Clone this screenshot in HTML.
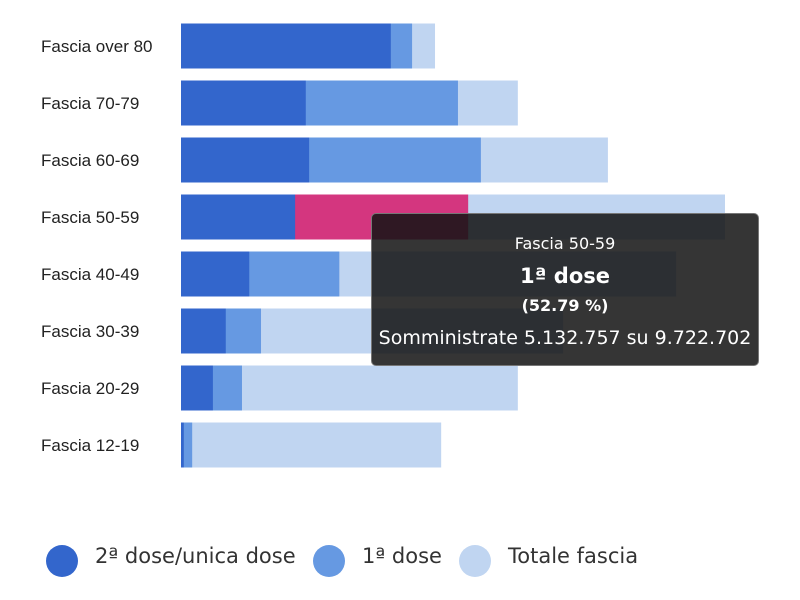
<!DOCTYPE html>
<html><head><meta charset="utf-8"><style>
body{margin:0;width:800px;height:600px;background:#fff;font-family:"Liberation Sans",sans-serif;overflow:hidden;position:relative}
#tip{position:absolute;left:371px;top:213px;width:388px;height:153px;box-sizing:border-box;background:rgba(20,20,20,0.86);border:1px solid #777;border-radius:5px;color:#fff;text-align:center;font-family:"DejaVu Sans","Liberation Sans",sans-serif}
.leg{position:absolute;top:544px;font-size:21px;color:#333;font-family:"DejaVu Sans","Liberation Sans",sans-serif}
.dot{position:absolute;top:545px;width:32px;height:32px;border-radius:50%}
</style></head><body>
<svg id="chart" width="800" height="600" style="position:absolute;left:0;top:0"></svg>
<div id="tip">
<div style="position:absolute;top:20px;width:100%;font-size:16px">Fascia 50-59</div>
<div style="position:absolute;top:50px;width:100%;font-size:21px;font-weight:bold">1ª dose</div>
<div style="position:absolute;top:82px;width:100%;font-size:16px;font-weight:bold">(52.79 %)</div>
<div style="position:absolute;top:113px;width:100%;font-size:19px">Somministrate 5.132.757 su 9.722.702</div>
</div>
<div class="dot" style="left:46px;background:#3366cc"></div>
<div class="leg" style="left:95px">2ª dose/unica dose</div>
<div class="dot" style="left:313px;background:#6699e2"></div>
<div class="leg" style="left:362px">1ª dose</div>
<div class="dot" style="left:459px;background:#c0d5f1"></div>
<div class="leg" style="left:508px">Totale fascia</div>
<script>
const categories=["Fascia over 80","Fascia 70-79","Fascia 60-69","Fascia 50-59","Fascia 40-49","Fascia 30-39","Fascia 20-29","Fascia 12-19"];
const dose2=[3.75,2.23,2.29,2.04,1.22,0.80,0.57,0.05];
const dose1=[4.13,4.95,5.36,5.132757,2.83,1.43,1.09,0.20];
const totals=[4.54,6.02,7.63,9.722702,8.85,6.83,6.02,4.65];
const highlight={series:"dose1",index:3};
const svg=document.getElementById('chart');
const NS="http://www.w3.org/2000/svg";
const x0=181,pxPer=544/9.722702;
const xs=v=>v*pxPer;
const yc=i=>46+i*57;
function rect(x,y,w,h,f,name){const r=document.createElementNS(NS,'rect');r.setAttribute('x',x);r.setAttribute('y',y);r.setAttribute('width',w);r.setAttribute('height',h);r.setAttribute('fill',f);


svg.appendChild(r);}
categories.forEach((c,i)=>{
 const y=yc(i)-22.5;
 rect(x0,y,xs(totals[i]),45,'#c0d5f1','bar-total-'+i);
 rect(x0,y,xs(dose1[i]),45,(highlight.series==="dose1"&&highlight.index===i)?'#d4367f':'#6699e2','bar-dose1-'+i);
 rect(x0,y,xs(dose2[i]),45,'#3366cc','bar-dose2-'+i);
 const t=document.createElementNS(NS,'text');t.setAttribute('x',41);t.setAttribute('y',yc(i)+6);t.setAttribute('font-size','17');t.setAttribute('fill','#222');t.setAttribute('font-family','Liberation Sans, sans-serif');t.textContent=c;
 
 
 svg.appendChild(t);
});
</script>
</body></html>
